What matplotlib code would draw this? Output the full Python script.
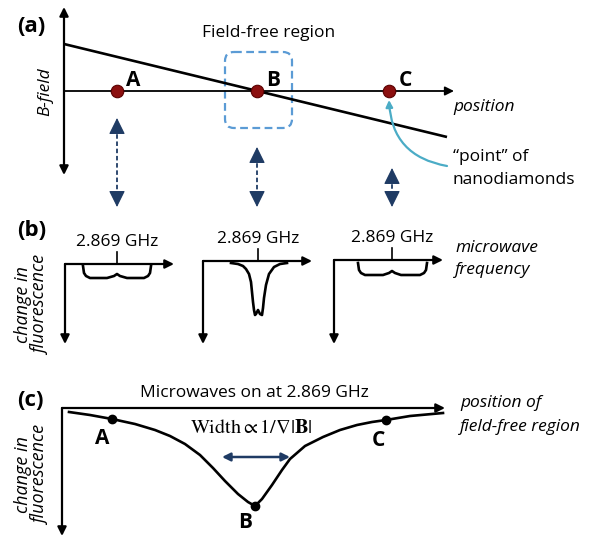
import matplotlib.pyplot as plt
from matplotlib.patches import FancyBboxPatch

plt.rcParams['font.family'] = ['Open Sans', 'DejaVu Sans']
plt.rcParams['mathtext.fontset'] = 'stix'

# --- schematic data (picture coordinates, y grows downward) ---
# panel (a): nanodiamond positions and the B-field line
point_labels = ['A', 'B', 'C']
point_x = [117, 257, 389]
axis_a_y = 91
bfield_x = [64, 447]
bfield_y = [44, 137]

# dashed links between (a) and (b)
link_x = [117, 257, 392]
link_top = [118, 147, 168]
link_bottom = [207, 207, 207]

# panel (b): three spectra, centre tick at 2.869 GHz
spec_origin_x = [65, 203, 334]
spec_origin_y = [264, 261, 260]
spec_tick_x = [117, 258, 392]
brace_left_x = [83, 84, 86, 90, 107, 114, 117, 120, 127, 144, 148, 150, 151]
brace_left_y = [266, 273, 276, 278, 278, 276, 274, 276, 278, 278, 276, 273, 266]
dip_x = [231, 238, 243, 246, 249, 251, 252, 253, 254, 255, 256, 258, 260, 262, 263, 264, 266, 269, 274, 280, 287]
dip_y = [263, 264, 266, 269, 274, 282, 292, 302, 310, 315, 314, 310, 314, 315, 308, 298, 285, 274, 267, 264, 263]
brace_right_x = [358, 359, 361, 365, 383, 389, 392, 395, 401, 420, 424, 426, 427]
brace_right_y = [263, 270, 273, 275, 275, 273, 271, 273, 275, 275, 273, 270, 263]

# panel (c): fluorescence vs position of the field-free region
resp_x = [69, 90, 112, 135, 155, 170, 185, 200, 213, 225, 238, 248, 255,
          262, 272, 282, 290, 305, 323, 340, 357, 372, 386, 410, 443]
resp_y = [412, 415, 419, 424, 430, 436, 444, 455, 468, 481, 494, 502, 506,
          499, 485, 470, 459, 446, 437, 430, 425, 422, 420, 416, 413]
resp_pts = [2, 12, 22]

DARKRED = '#8B0F0F'
NAVY = '#1F3B64'
LIGHTBLUE = '#5B9BD5'
CYAN = '#4BACC6'
FS = 12.5


def arrow(ax, x0, y0, x1, y1, style='-|>', color='black', lw=1.6, ms=13, conn=None):
    props = dict(arrowstyle=style, color=color, lw=lw, mutation_scale=ms,
                 shrinkA=0, shrinkB=0)
    if conn:
        props['connectionstyle'] = conn
    ax.annotate('', xy=(x1, y1), xytext=(x0, y0), arrowprops=props)


fig = plt.figure(figsize=(5.9, 5.37), dpi=100)
ax = fig.add_axes([0, 0, 1, 1])
ax.set_xlim(0, 590)
ax.set_ylim(537, 0)
ax.axis('off')

# ---------------- (a) ----------------
ax.text(17, 27, '(a)', fontsize=16, fontweight='bold', va='center', ha='left')
arrow(ax, 64, 175, 64, 7, style='<|-|>')
arrow(ax, 64, axis_a_y, 454, axis_a_y, lw=1.3)
ax.plot(bfield_x, bfield_y, color='black', lw=1.9, solid_capstyle='butt')
ax.add_patch(FancyBboxPatch((225, 52), 67, 76, boxstyle='round,pad=0,rounding_size=9',
                            fill=False, ec=LIGHTBLUE, lw=1.6, ls=(0, (3.5, 2))))
ax.text(269, 33, 'Field-free region', fontsize=FS, ha='center', va='center')
ax.text(45, 92, 'B-field', fontsize=FS, style='italic', rotation=90, ha='center', va='center')
ax.text(453, 107, 'position', fontsize=FS, style='italic', ha='left', va='center')
for lab, px in zip(point_labels, point_x):
    ax.plot(px, axis_a_y, 'o', ms=9, mfc=DARKRED, mec='#5a0000', mew=0.8, zorder=5)
    ax.text(px + 16, axis_a_y - 11, lab, fontsize=15, fontweight='bold', ha='center', va='center')
arrow(ax, 447, 166, 389, 100, color=CYAN, lw=1.6, ms=10, conn='arc3,rad=-0.4')
ax.text(453, 157, '\u201cpoint\u201d of', fontsize=FS, ha='left', va='center')
ax.text(453, 180, 'nanodiamonds', fontsize=FS, ha='left', va='center')

# dashed link arrows from (a) to (b)
head = '-|>,head_length=0.85,head_width=0.42'
for lx, top, bot in zip(link_x, link_top, link_bottom):
    ax.plot([lx, lx], [top + 9, bot - 9], color=NAVY, lw=1.3, ls=(0, (2.5, 1.5)))
    arrow(ax, lx, top + 11, lx, top, style=head, color=NAVY, lw=0.8, ms=12)
    arrow(ax, lx, bot - 11, lx, bot, style=head, color=NAVY, lw=0.8, ms=12)

# ---------------- (b) ----------------
ax.text(17, 231, '(b)', fontsize=16, fontweight='bold', va='center', ha='left')
for ox, oy, tx in zip(spec_origin_x, spec_origin_y, spec_tick_x):
    arrow(ax, ox, oy, ox + 109, oy)
    arrow(ax, ox, oy, ox, 344)
    ax.plot([tx, tx], [oy - 12, oy], color='black', lw=1.2)
    ax.text(tx, oy - 22, '2.869 GHz', fontsize=FS, ha='center', va='center')
ax.plot(brace_left_x, brace_left_y, color='black', lw=1.9)
ax.plot(dip_x, dip_y, color='black', lw=1.9)
ax.plot(brace_right_x, brace_right_y, color='black', lw=1.9)
ax.text(455, 248, 'microwave', fontsize=FS, style='italic', ha='left', va='center')
ax.text(455, 270, 'frequency', fontsize=FS, style='italic', ha='left', va='center')
ax.text(32, 305, 'change in\nfluorescence', fontsize=13, style='italic', rotation=90,
        ha='center', va='center', linespacing=1.0)

# ---------------- (c) ----------------
ax.text(17, 401, '(c)', fontsize=16, fontweight='bold', va='center', ha='left')
arrow(ax, 62, 408, 445, 408)
arrow(ax, 62, 408, 62, 536)
ax.text(254, 393, 'Microwaves on at 2.869 GHz', fontsize=FS, ha='center', va='center')
ax.plot(resp_x, resp_y, color='black', lw=1.9)
for i, lab, dx, dy in zip(resp_pts, point_labels, [-10, -10, -8], [20, 16, 20]):
    ax.plot(resp_x[i], resp_y[i], 'o', ms=6, color='black', zorder=5)
    ax.text(resp_x[i] + dx, resp_y[i] + dy, lab, fontsize=15, fontweight='bold',
            ha='center', va='center')
ax.text(251, 428, r'$\mathrm{Width} \propto 1/\nabla|\mathbf{B}|$', fontsize=14.5,
        ha='center', va='center')
arrow(ax, 222, 457, 290, 457, style='<|-|>', color=NAVY, lw=1.8, ms=12)
ax.text(460, 403, 'position of', fontsize=FS, style='italic', ha='left', va='center')
ax.text(460, 427, 'field-free region', fontsize=FS, style='italic', ha='left', va='center')
ax.text(32, 475, 'change in\nfluorescence', fontsize=13, style='italic', rotation=90,
        ha='center', va='center', linespacing=1.0)

fig.savefig('out.png', dpi=100)
